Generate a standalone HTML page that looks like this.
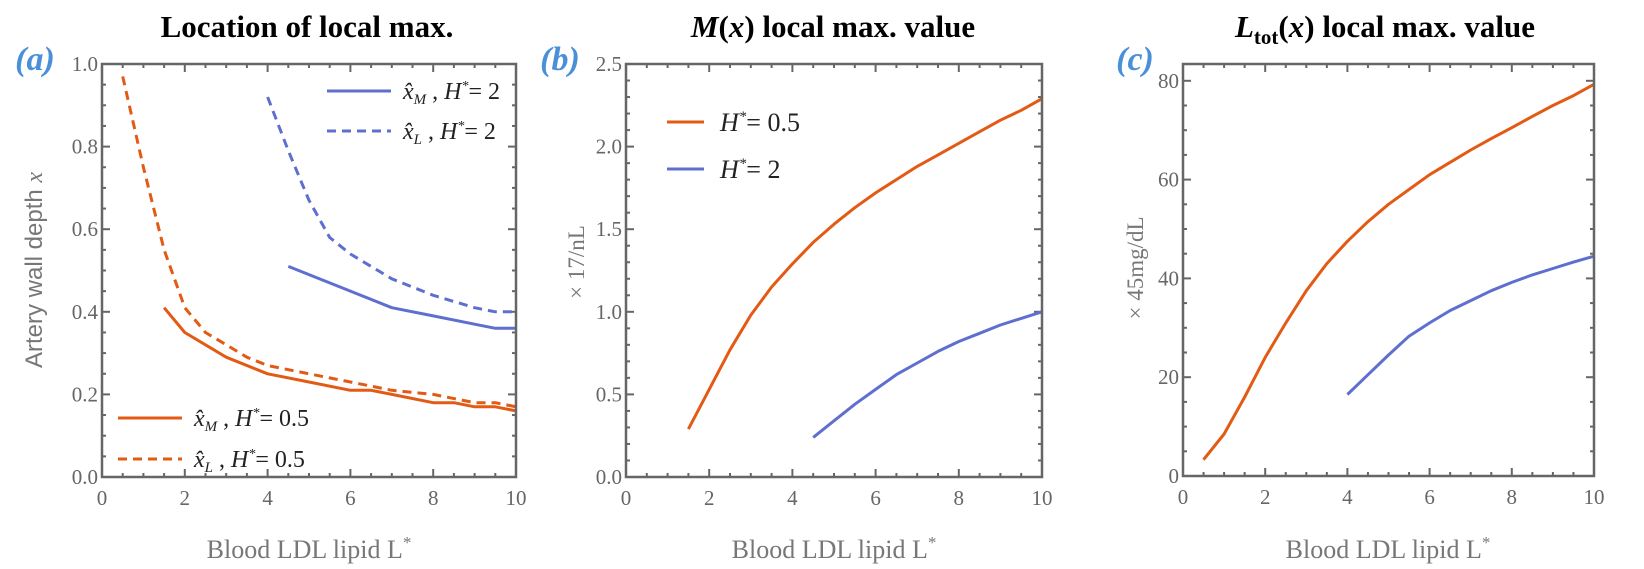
<!DOCTYPE html>
<html><head><meta charset="utf-8"><style>
html,body{margin:0;padding:0;background:#fff;}
svg{display:block;}
.tick{font-family:"Liberation Serif",serif;font-size:21px;fill:#666;}
.ttl{font-family:"Liberation Serif",serif;font-size:31px;font-weight:bold;fill:#000;}
.lab{font-family:"Liberation Serif",serif;font-size:34px;font-weight:bold;font-style:italic;fill:#4a90d9;}
.xt{font-family:"Liberation Serif",serif;font-size:26px;fill:#777;}
.leg{font-family:"Liberation Serif",serif;font-size:24px;fill:#222;font-style:italic;}
.legb{font-family:"Liberation Serif",serif;font-size:26px;fill:#222;font-style:italic;}
</style></head><body>
<svg id="chart" width="1644" height="569" viewBox="0 0 1644 569" xmlns="http://www.w3.org/2000/svg">
<text class="ttl" x="307" y="37" text-anchor="middle">Location of local max.</text>
<text class="ttl" x="833" y="37" text-anchor="middle"><tspan font-style="italic">M</tspan>(<tspan font-style="italic">x</tspan>) local max. value</text>
<text class="ttl" x="1385" y="37" text-anchor="middle"><tspan font-style="italic">L</tspan><tspan font-size="21" dy="7">tot</tspan><tspan dy="-7">(</tspan><tspan font-style="italic">x</tspan>) local max. value</text>
<text class="lab" x="35" y="70" text-anchor="middle">(a)</text>
<text class="lab" x="560" y="70" text-anchor="middle">(b)</text>
<text class="lab" x="1135" y="70" text-anchor="middle">(c)</text>
<text font-family="Liberation Sans,sans-serif" font-size="24" fill="#777" transform="translate(42,270) rotate(-90)" text-anchor="middle">Artery wall depth <tspan font-family="Liberation Serif,serif" font-style="italic">x</tspan></text>
<text font-family="Liberation Serif,serif" font-size="23" fill="#777" transform="translate(584,262) rotate(-90)" text-anchor="middle">× 17/nL</text>
<text font-family="Liberation Serif,serif" font-size="23" fill="#777" transform="translate(1143,268) rotate(-90)" text-anchor="middle">× 45mg/dL</text>
<text class="xt" x="309" y="558" text-anchor="middle">Blood LDL lipid L<tspan font-size="17" dy="-10">*</tspan></text>
<text class="xt" x="834" y="558" text-anchor="middle">Blood LDL lipid L<tspan font-size="17" dy="-10">*</tspan></text>
<text class="xt" x="1388" y="558" text-anchor="middle">Blood LDL lipid L<tspan font-size="17" dy="-10">*</tspan></text>
<g id="plots"></g>
<line x1="327" y1="91" x2="391" y2="91" stroke="#5e6fcf" stroke-width="3"/>
<text class="leg" x="403" y="99">x̂<tspan font-size="15" dy="5">M</tspan><tspan dy="-5" font-style="normal"> , </tspan>H<tspan font-size="14" dy="-9">*</tspan><tspan dy="9" font-style="normal">= 2</tspan></text>
<line x1="327" y1="131" x2="391" y2="131" stroke="#5e6fcf" stroke-width="3" stroke-dasharray="9,6"/>
<text class="leg" x="403" y="139">x̂<tspan font-size="15" dy="5">L</tspan><tspan dy="-5" font-style="normal"> , </tspan>H<tspan font-size="14" dy="-9">*</tspan><tspan dy="9" font-style="normal">= 2</tspan></text>
<line x1="118" y1="418" x2="182" y2="418" stroke="#e35a14" stroke-width="3"/>
<text class="leg" x="194" y="426">x̂<tspan font-size="15" dy="5">M</tspan><tspan dy="-5" font-style="normal"> , </tspan>H<tspan font-size="14" dy="-9">*</tspan><tspan dy="9" font-style="normal">= 0.5</tspan></text>
<line x1="118" y1="459" x2="182" y2="459" stroke="#e35a14" stroke-width="3" stroke-dasharray="9,6"/>
<text class="leg" x="194" y="467">x̂<tspan font-size="15" dy="5">L</tspan><tspan dy="-5" font-style="normal"> , </tspan>H<tspan font-size="14" dy="-9">*</tspan><tspan dy="9" font-style="normal">= 0.5</tspan></text>
<line x1="667" y1="122" x2="704" y2="122" stroke="#e35a14" stroke-width="3"/>
<text class="legb" x="720" y="131">H<tspan font-size="15" dy="-10">*</tspan><tspan dy="10" font-style="normal">= 0.5</tspan></text>
<line x1="667" y1="169" x2="704" y2="169" stroke="#5e6fcf" stroke-width="3"/>
<text class="legb" x="720" y="178">H<tspan font-size="15" dy="-10">*</tspan><tspan dy="10" font-style="normal">= 2</tspan></text>
</svg>
<script>
const xTicks = [0, 2, 4, 6, 8, 10];
const yTicksA = [0.0, 0.2, 0.4, 0.6, 0.8, 1.0];
const yTicksB = [0.0, 0.5, 1.0, 1.5, 2.0, 2.5];
const yTicksC = [0, 20, 40, 60, 80];
// panel a
const aXLo_x = [0.5, 1, 1.5, 2, 2.5, 3, 3.5, 4, 5, 6, 7, 8, 9, 9.5, 10];
const aXLo_y = [0.97, 0.75, 0.55, 0.41, 0.35, 0.32, 0.29, 0.27, 0.25, 0.23, 0.21, 0.20, 0.18, 0.18, 0.17];
const aXMo_x = [1.5, 2, 3, 4, 5, 6, 6.5, 7, 8, 8.5, 9, 9.5, 10];
const aXMo_y = [0.41, 0.35, 0.29, 0.25, 0.23, 0.21, 0.21, 0.20, 0.18, 0.18, 0.17, 0.17, 0.16];
const aXLb_x = [4, 4.5, 5, 5.5, 6, 7, 8, 9, 9.5, 10];
const aXLb_y = [0.92, 0.79, 0.67, 0.58, 0.54, 0.48, 0.44, 0.41, 0.40, 0.40];
const aXMb_x = [4.5, 5, 6, 7, 8, 9, 9.5, 10];
const aXMb_y = [0.51, 0.49, 0.45, 0.41, 0.39, 0.37, 0.36, 0.36];
// panel b
const bO_x = [1.5, 2, 2.5, 3, 3.5, 4, 4.5, 5, 5.5, 6, 6.5, 7, 7.5, 8, 8.5, 9, 9.5, 10];
const bO_y = [0.29, 0.53, 0.77, 0.98, 1.15, 1.29, 1.42, 1.53, 1.63, 1.72, 1.80, 1.88, 1.95, 2.02, 2.09, 2.16, 2.22, 2.29];
const bB_x = [4.5, 5, 5.5, 6, 6.5, 7, 7.5, 8, 8.5, 9, 9.5, 10];
const bB_y = [0.24, 0.34, 0.44, 0.53, 0.62, 0.69, 0.76, 0.82, 0.87, 0.92, 0.96, 1.00];
// panel c
const cO_x = [0.5, 1, 1.5, 2, 2.5, 3, 3.5, 4, 4.5, 5, 5.5, 6, 6.5, 7, 7.5, 8, 8.5, 9, 9.5, 10];
const cO_y = [3.3, 8.5, 16, 24, 31, 37.5, 43, 47.5, 51.5, 55, 58, 61, 63.5, 66, 68.3, 70.5, 72.8, 75, 77, 79.3];
const cB_x = [4, 4.5, 5, 5.5, 6, 6.5, 7, 7.5, 8, 8.5, 9, 9.5, 10];
const cB_y = [16.5, 20.5, 24.5, 28.3, 31, 33.5, 35.5, 37.5, 39.2, 40.7, 42, 43.3, 44.5];

const NS = "http://www.w3.org/2000/svg";
const root = document.getElementById('plots');
const ORANGE = "#e35a14", BLUE = "#5e6fcf";
function mk(tag, at) { const e = document.createElementNS(NS, tag); for (const k in at) e.setAttribute(k, at[k]); return e; }

function panel(id, L, R, T, B, yMax, yTicks, yMinor, yFmt, series) {
  const g = mk('g', {});
  
  
  root.appendChild(g);
  const sx = v => L + (R - L) * v / 10;
  const sy = v => B - (B - T) * v / yMax;
  for (let v = 0; v <= 10.001; v += 0.5) {
    const major = Math.abs(v - Math.round(v / 2) * 2) < 1e-6;
    const len = major ? 8 : 4;
    g.appendChild(mk('line', {x1: sx(v), x2: sx(v), y1: B, y2: B - len, stroke: '#666', 'stroke-width': 2}));
    g.appendChild(mk('line', {x1: sx(v), x2: sx(v), y1: T, y2: T + len, stroke: '#666', 'stroke-width': 2}));
  }
  for (let v = 0; v <= yMax + 1e-6; v += yMinor) {
    const major = yTicks.some(t => Math.abs(t - v) < 1e-6);
    const len = major ? 8 : 4;
    g.appendChild(mk('line', {x1: L, x2: L + len, y1: sy(v), y2: sy(v), stroke: '#666', 'stroke-width': 2}));
    g.appendChild(mk('line', {x1: R, x2: R - len, y1: sy(v), y2: sy(v), stroke: '#666', 'stroke-width': 2}));
  }
  xTicks.forEach(v => {
    const t = mk('text', {x: sx(v), y: B + 28, 'text-anchor': 'middle', class: 'tick'});
    
    
    t.textContent = v; g.appendChild(t);
  });
  yTicks.forEach(v => {
    const t = mk('text', {x: L - 4, y: sy(v) + 7, 'text-anchor': 'end', class: 'tick'});
    
    
    t.textContent = yFmt(v); g.appendChild(t);
  });
  series.forEach(s => {
    const d = s.x.map((xv, i) => (i ? 'L' : 'M') + sx(xv).toFixed(1) + ',' + sy(s.y[i]).toFixed(1)).join(' ');
    const p = mk('path', {d: d, fill: 'none', stroke: s.c, 'stroke-width': 3, 'stroke-linejoin': 'round'});
    if (s.dash) p.setAttribute('stroke-dasharray', '9,6');
    
    
    g.appendChild(p);
  });
  const fr = mk('rect', {x: L, y: T, width: R - L, height: B - T, fill: 'none', stroke: '#666', 'stroke-width': 2.5});
  
  
  g.appendChild(fr);
}
panel('a', 102, 516, 64, 477, 1.0, yTicksA, 0.05, v => v.toFixed(1), [
  {x: aXLo_x, y: aXLo_y, c: ORANGE, dash: true, name: 'line-xl-h05'},
  {x: aXMo_x, y: aXMo_y, c: ORANGE, dash: false, name: 'line-xm-h05'},
  {x: aXLb_x, y: aXLb_y, c: BLUE, dash: true, name: 'line-xl-h2'},
  {x: aXMb_x, y: aXMb_y, c: BLUE, dash: false, name: 'line-xm-h2'}]);
panel('b', 626, 1042, 64, 477, 2.5, yTicksB, 0.1, v => v.toFixed(1), [
  {x: bO_x, y: bO_y, c: ORANGE, name: 'line-m-h05'},
  {x: bB_x, y: bB_y, c: BLUE, name: 'line-m-h2'}]);
panel('c', 1183, 1594, 64, 476, 83.4, yTicksC, 5, v => String(v), [
  {x: cO_x, y: cO_y, c: ORANGE, name: 'line-ltot-h05'},
  {x: cB_x, y: cB_y, c: BLUE, name: 'line-ltot-h2'}]);
</script>
</body></html>
